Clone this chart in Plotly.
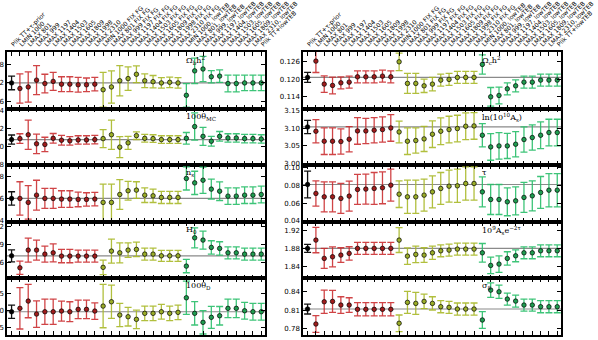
import plotly.graph_objects as go
from plotly.subplots import make_subplots

labels = [
    "Plik TT+τ-prior",
    "LMIN 1000", "LMAX 801", "LMAX 999", "LMAX 1197", "LMAX 1404",
    "LMAX 1503", "LMAX 1605", "LMAX 1809", "LMAX 1998", "LMAX 2310",
    "LMIN 1000 FIX FG", "LMAX 801 FIX FG", "LMAX 999 FIX FG", "LMAX 1197 FIX FG", "LMAX 1404 FIX FG",
    "LMAX 1503 FIX FG", "LMAX 1605 FIX FG", "LMAX 1809 FIX FG", "LMAX 1998 FIX FG", "LMAX 2310 FIX FG",
    "LMIN 1000, lowTEB", "LMAX 801, lowTEB", "LMAX 999, lowTEB", "LMAX 1197, lowTEB", "LMAX 1404, lowTEB",
    "LMAX 1503, lowTEB", "LMAX 1605, lowTEB", "LMAX 1809, lowTEB", "LMAX 2310, lowTEB",
    "Plik TT+lowTEB",
]

# левая колонка
omega_b = [0.02220, 0.02202, 0.02207, 0.02229, 0.02218, 0.02225, 0.02216, 0.02216, 0.02214, 0.02214, 0.02216,
           0.02198, 0.02207, 0.02227, 0.02234, 0.02248, 0.02227, 0.02224, 0.02220, 0.02222, 0.02220,
           0.02180, 0.02259, 0.02265, 0.02240, 0.02242, 0.02218, 0.02218, 0.02220, 0.02220, 0.02220]
omega_b_err = [0.00022, 0.00047, 0.00049, 0.00047, 0.00030, 0.00029, 0.00024, 0.00024, 0.00024, 0.00022, 0.00022,
               0.00056, 0.00052, 0.00049, 0.00038, 0.00027, 0.00022, 0.00020, 0.00017, 0.00017, 0.00017,
               0.00038, 0.00041, 0.00041, 0.00020, 0.00020, 0.00027, 0.00027, 0.00025, 0.00025, 0.00025]

theta_mc = [1.04080, 1.04091, 1.04134, 1.04033, 1.04026, 1.04094, 1.04073, 1.04066, 1.04076, 1.04076, 1.04080,
            1.04091, 1.04134, 1.03996, 1.04044, 1.04124, 1.04094, 1.04091, 1.04080, 1.04080, 1.04080,
            1.04094, 1.04225, 1.04116, 1.04062, 1.04116, 1.04098, 1.04098, 1.04091, 1.04091, 1.04087]
theta_mc_err = [0.00051, 0.00054, 0.00163, 0.00109, 0.00080, 0.00054, 0.00054, 0.00047, 0.00047, 0.00047, 0.00047,
                0.00101, 0.00163, 0.00116, 0.00072, 0.00043, 0.00043, 0.00043, 0.00043, 0.00043, 0.00043,
                0.00065, 0.00152, 0.00101, 0.00054, 0.00054, 0.00047, 0.00047, 0.00047, 0.00047, 0.00047]

n_s = [0.9600, 0.9600, 0.9564, 0.9630, 0.9600, 0.9600, 0.9594, 0.9594, 0.9591, 0.9591, 0.9594,
       0.9564, 0.9564, 0.9636, 0.9670, 0.9676, 0.9630, 0.9624, 0.9609, 0.9609, 0.9609,
       0.9782, 0.9742, 0.9766, 0.9685, 0.9666, 0.9621, 0.9621, 0.9630, 0.9630, 0.9636]
n_s_err = [0.0061, 0.0152, 0.0152, 0.0136, 0.0091, 0.0091, 0.0076, 0.0076, 0.0067, 0.0061, 0.0061,
           0.0167, 0.0167, 0.0136, 0.0085, 0.0076, 0.0067, 0.0061, 0.0055, 0.0055, 0.0055,
           0.0105, 0.0106, 0.0120, 0.0091, 0.0085, 0.0076, 0.0076, 0.0076, 0.0076, 0.0076]

h0 = [67.05, 65.05, 68.00, 68.00, 67.33, 67.55, 67.00, 67.00, 67.00, 67.00, 67.00,
      65.12, 67.83, 67.55, 68.00, 68.12, 67.33, 67.33, 67.05, 67.05, 67.05,
      65.33, 70.05, 69.67, 68.45, 68.28, 67.55, 67.55, 67.33, 67.33, 67.33]
h0_err = [1.00, 1.11, 2.00, 1.67, 1.33, 1.50, 1.11, 1.11, 1.00, 1.00, 1.00,
          1.22, 2.00, 1.67, 1.22, 1.22, 1.00, 1.00, 0.92, 0.92, 0.92,
          1.11, 1.67, 1.50, 1.11, 1.11, 1.00, 1.00, 1.00, 1.00, 1.00]

theta_d = [0.160965, 0.161065, 0.161279, 0.160897, 0.160965, 0.160965, 0.160985, 0.160965, 0.161035, 0.161035, 0.160985,
           0.161132, 0.161259, 0.160868, 0.160818, 0.160741, 0.160918, 0.160918, 0.160965, 0.160918, 0.160947,
           0.161376, 0.160918, 0.160653, 0.160800, 0.160847, 0.161065, 0.161065, 0.160994, 0.160965, 0.160965]
theta_d_err = [0.000197, 0.000609, 0.000491, 0.000391, 0.000373, 0.000373, 0.000294, 0.000294, 0.000273, 0.000273, 0.000244,
               0.000638, 0.000491, 0.000344, 0.000273, 0.000273, 0.000215, 0.000215, 0.000215, 0.000215, 0.000215,
               0.000491, 0.000344, 0.000344, 0.000323, 0.000273, 0.000273, 0.000273, 0.000244, 0.000244, 0.000244]

# правая колонка
omega_c = [0.12068, 0.12628, 0.11839, 0.11794, 0.11883, 0.11907, 0.12089, 0.12089, 0.12089, 0.12113, 0.12089,
           0.12604, 0.11863, 0.11863, 0.11780, 0.11839, 0.11976, 0.12000, 0.12069, 0.12069, 0.12069,
           0.12514, 0.11403, 0.11451, 0.11678, 0.11780, 0.11907, 0.11907, 0.11976, 0.11976, 0.11976]
omega_c_err = [0.00172, 0.00390, 0.00286, 0.00286, 0.00206, 0.00206, 0.00206, 0.00206, 0.00206, 0.00206, 0.00206,
               0.00300, 0.00343, 0.00343, 0.00229, 0.00229, 0.00206, 0.00206, 0.00206, 0.00206, 0.00206,
               0.00330, 0.00320, 0.00286, 0.00206, 0.00206, 0.00206, 0.00206, 0.00206, 0.00206, 0.00206]

ln_as = [3.1044, 3.0921, 3.0636, 3.0636, 3.0626, 3.0693, 3.0930, 3.0930, 3.0950, 3.0969, 3.1015,
         3.0901, 3.0636, 3.0656, 3.0702, 3.0836, 3.0921, 3.0969, 3.0998, 3.1064, 3.1073,
         3.0807, 3.0473, 3.0502, 3.0502, 3.0550, 3.0684, 3.0741, 3.0807, 3.0884, 3.0884]
ln_as_err = [0.019, 0.033, 0.038, 0.038, 0.036, 0.036, 0.038, 0.036, 0.036, 0.036, 0.038,
             0.031, 0.038, 0.036, 0.036, 0.038, 0.038, 0.038, 0.038, 0.038, 0.038,
             0.033, 0.038, 0.038, 0.036, 0.036, 0.036, 0.036, 0.038, 0.038, 0.038]

tau = [0.0809, 0.0708, 0.0670, 0.0670, 0.0652, 0.0678, 0.0753, 0.0757, 0.0764, 0.0772, 0.0801,
       0.0700, 0.0670, 0.0670, 0.0689, 0.0726, 0.0764, 0.0790, 0.0794, 0.0820, 0.0820,
       0.0726, 0.0640, 0.0640, 0.0614, 0.0625, 0.0663, 0.0681, 0.0719, 0.0745, 0.0745]
tau_err = [0.0150, 0.0142, 0.0169, 0.0169, 0.0169, 0.0169, 0.0169, 0.0169, 0.0180, 0.0180, 0.0180,
           0.0150, 0.0187, 0.0187, 0.0180, 0.0180, 0.0180, 0.0180, 0.0187, 0.0187, 0.0187,
           0.0169, 0.0169, 0.0169, 0.0157, 0.0157, 0.0169, 0.0169, 0.0180, 0.0187, 0.0187]

as_e2tau = [1.8801, 1.8982, 1.8583, 1.8618, 1.8655, 1.8692, 1.8801, 1.8801, 1.8801, 1.8801, 1.8801,
            1.8982, 1.8633, 1.8670, 1.8655, 1.8705, 1.8749, 1.8764, 1.8786, 1.8786, 1.8786,
            1.8705, 1.8430, 1.8459, 1.8583, 1.8640, 1.8705, 1.8705, 1.8749, 1.8749, 1.8749]
as_e2tau_err = [0.0087, 0.0276, 0.0218, 0.0218, 0.0160, 0.0145, 0.0130, 0.0130, 0.0130, 0.0130, 0.0130,
                0.0270, 0.0180, 0.0180, 0.0160, 0.0145, 0.0130, 0.0130, 0.0130, 0.0130, 0.0130,
                0.0203, 0.0180, 0.0180, 0.0145, 0.0130, 0.0130, 0.0130, 0.0130, 0.0130, 0.0130]

sigma8 = [0.8122, 0.7880, 0.8239, 0.8245, 0.8186, 0.8186, 0.8117, 0.8117, 0.8117, 0.8117, 0.8117,
          0.7892, 0.8229, 0.8213, 0.8245, 0.8213, 0.8159, 0.8149, 0.8122, 0.8122, 0.8122,
          0.7945, 0.8427, 0.8400, 0.8283, 0.8250, 0.8186, 0.8186, 0.8159, 0.8159, 0.8159]
sigma8_err = [0.0080, 0.0134, 0.0188, 0.0177, 0.0134, 0.0118, 0.0107, 0.0107, 0.0107, 0.0107, 0.0107,
              0.0134, 0.0177, 0.0177, 0.0118, 0.0107, 0.0097, 0.0097, 0.0097, 0.0097, 0.0097,
              0.0134, 0.0118, 0.0107, 0.0097, 0.0097, 0.0097, 0.0097, 0.0097, 0.0097, 0.0097]

# группы точек: (начало, конец, цвет усов, заливка маркера)
groups = [
    (0, 1, "#111111", "#000000"),
    (1, 11, "rgba(200,35,38,0.85)", "#a01c1c"),
    (11, 21, "rgba(168,184,40,0.9)", "#9aad28"),
    (21, 31, "rgba(40,190,105,0.9)", "#1f9c50"),
]

panels = [
    (1, 1, omega_b, omega_b_err, [0.02137, 0.02320], ["0.0216", "0.0222", "0.0228"], "Ω<sub>b</sub>h<sup>2</sup>"),
    (2, 1, theta_mc, theta_mc_err, [1.03795, 1.04425], ["1.038", "1.040", "1.042", "1.044"], "100θ<sub>MC</sub>"),
    (3, 1, n_s, n_s_err, [0.9387, 0.9903], ["0.94", "0.96", "0.98"], "n<sub>s</sub>"),
    (4, 1, h0, h0_err, [63.28, 72.72], ["63", "66", "69", "72"], "H<sub>0</sub>"),
    (5, 1, theta_d, theta_d_err, [0.16028, 0.161947], ["0.1605", "0.1610", "0.1615"], "100θ<sub>D</sub>"),
    (1, 2, omega_c, omega_c_err, [0.1100, 0.1294], ["0.114", "0.120", "0.126"], "Ω<sub>c</sub>h<sup>2</sup>"),
    (2, 2, ln_as, ln_as_err, [2.9951, 3.1568], ["3.00", "3.05", "3.10", "3.15"], "ln(10<sup>10</sup>A<sub>s</sub>)"),
    (3, 2, tau, tau_err, [0.0389, 0.1026], ["0.04", "0.06", "0.08", "0.10"], "τ"),
    (4, 2, as_e2tau, as_e2tau_err, [1.8147, 1.9381], ["1.84", "1.88", "1.92"], "10<sup>9</sup>A<sub>s</sub>e<sup>−2τ</sup>"),
    (5, 2, sigma8, sigma8_err, [0.7703, 0.8616], ["0.78", "0.81", "0.84"], "σ<sub>8</sub>"),
]

fig = make_subplots(rows=5, cols=2, horizontal_spacing=0.0686, vertical_spacing=0)

for row, col, vals, errs, yrange, ticks, name in panels:
    for start, stop, bar_color, fill in groups:
        fig.add_trace(go.Scatter(
            x=labels[start:stop], y=vals[start:stop], mode="markers",
            error_y=dict(type="data", array=errs[start:stop], color=bar_color, thickness=1.3, width=3.5),
            marker=dict(size=4.5, color=fill, line=dict(color="black", width=0.7)),
            showlegend=False), row=row, col=col)
    # серая линия на уровне референсного значения
    fig.add_hline(y=vals[0], line_color="#8a8a8a", line_width=1.2, layer="below", row=row, col=col)
    fig.update_yaxes(range=yrange, tickmode="array", tickvals=[float(t) for t in ticks], ticktext=ticks,
                     row=row, col=col)
    idx = (row - 1) * 2 + col
    suffix = "" if idx == 1 else str(idx)
    fig.add_annotation(x=labels[21], y=1, xref="x" + suffix, yref="y" + suffix + " domain",
                       text=name, showarrow=False, xanchor="left", yanchor="top", xshift=-2, yshift=-1,
                       font=dict(family="DejaVu Serif", size=8, color="black"))

fig.update_xaxes(range=[-0.55, 30.45], tickmode="array", tickvals=labels, showticklabels=False,
                 ticks="inside", ticklen=4, tickwidth=1, tickcolor="black", automargin=False,
                 showline=True, linecolor="black", linewidth=1.5, mirror="ticks", showgrid=False, zeroline=False)
fig.update_xaxes(side="top", showticklabels=True, tickangle=-45,
                 tickfont=dict(family="DejaVu Sans", size=6.1, color="black"), row=1)
fig.update_yaxes(ticks="inside", ticklen=4, tickwidth=1, tickcolor="black", automargin=False,
                 showline=True, linecolor="black", linewidth=1.5, mirror="ticks", showgrid=False, zeroline=False,
                 tickfont=dict(family="DejaVu Sans", size=7, color="black"))

fig.update_layout(
    width=598, height=340,
    margin=dict(l=7, r=37, t=52, b=5),
    plot_bgcolor="white", paper_bgcolor="white",
    showlegend=False,
)

# убираем стандартный отступ body, чтобы график лёг ровно в окно
fig.write_html("out.html", config={"displayModeBar": False},
               post_script="document.body.style.margin='0px';")
